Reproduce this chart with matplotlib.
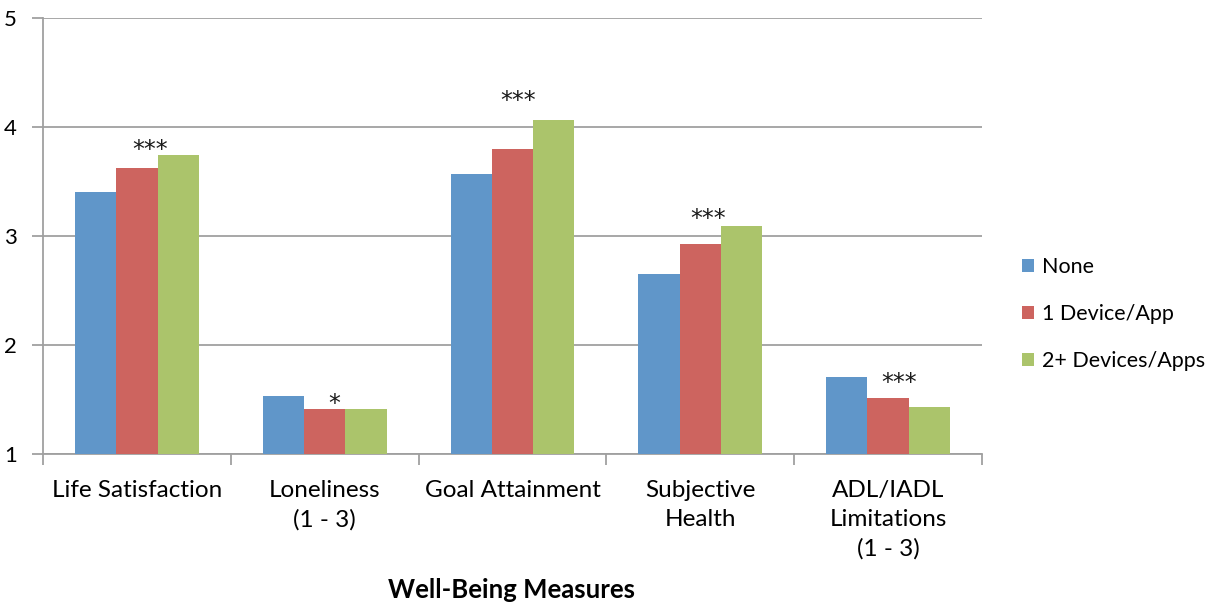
import matplotlib
matplotlib.use("Agg")
import matplotlib.pyplot as plt
import numpy as np

categories = ["Life Satisfaction", "Loneliness\n(1 - 3)", "Goal Attainment", "Subjective\nHealth", "ADL/IADL\nLimitations\n(1 - 3)"]
series_names = ["None", "1 Device/App", "2+ Devices/Apps"]
none_vals = [3.40, 1.53, 3.57, 2.65, 1.71]
one_vals = [3.62, 1.41, 3.80, 2.93, 1.51]
two_vals = [3.74, 1.41, 4.06, 3.09, 1.43]
sig_labels = ["***", "*", "***", "***", "***"]
sig_x_offset = [0.07, 0.05, 0.03, 0.04, 0.06]
sig_y = [3.785, 1.455, 4.235, 3.155, 1.655]
yticks = [1, 2, 3, 4, 5]

colors = ["#6096C9", "#CD645F", "#ABC46B"]
plt.rcParams['font.family'] = ['Lato', 'DejaVu Sans']

fig = plt.figure(figsize=(12.11, 6.05), dpi=100)
ax = fig.add_axes([43/1211, 1-454/605, (982-43)/1211, (454-18)/605])

x = np.arange(len(categories))
w = 0.22
for i, (vals, name, c) in enumerate(zip([none_vals, one_vals, two_vals], series_names, colors)):
    ax.bar(x + (i-1)*w, np.array(vals)-1, bottom=1, width=w, color=c, label=name, zorder=3)

for xi, lab, off, yy in zip(x, sig_labels, sig_x_offset, sig_y):
    ax.text(xi + off, yy, lab, ha='center', va='center', fontsize=17, family='DejaVu Sans', color='#1a1a1a', zorder=4)

ax.set_xlim(-0.5, len(categories)-0.5)
ax.set_ylim(1, 5)
ax.set_yticks(yticks)
ax.set_yticklabels([str(t) for t in yticks], fontsize=16)
ax.yaxis.grid(True, color='#A0A0A0', linewidth=1.3, zorder=0)
ax.set_axisbelow(True)

ax.set_xticks(x)
ax.set_xticklabels(categories, fontsize=17.5, linespacing=1.45, va='top')
ax.tick_params(axis='x', length=0, pad=19)
ax.set_xticks(np.arange(-0.5, len(categories)), minor=True)
ax.tick_params(axis='x', which='minor', length=8, width=1.3, color='#A0A0A0', direction='out')
ax.tick_params(axis='y', length=8, width=1.3, color='#A0A0A0', pad=11)

for s in ['top', 'right']:
    ax.spines[s].set_visible(False)
for s in ['left', 'bottom']:
    ax.spines[s].set_color('#A0A0A0')
    ax.spines[s].set_linewidth(1.3)

fig.text(512/1211, 1-590/605, "Well-Being Measures", ha='center', va='center', fontsize=18.5, fontweight='bold')

leg = fig.legend(loc='center left', bbox_to_anchor=(1003/1211, 1-314/605), frameon=False,
                 fontsize=15.5, handlelength=0.55, handleheight=0.55, handletextpad=0.35, labelspacing=1.25)

fig.savefig("out.png", dpi=100)
